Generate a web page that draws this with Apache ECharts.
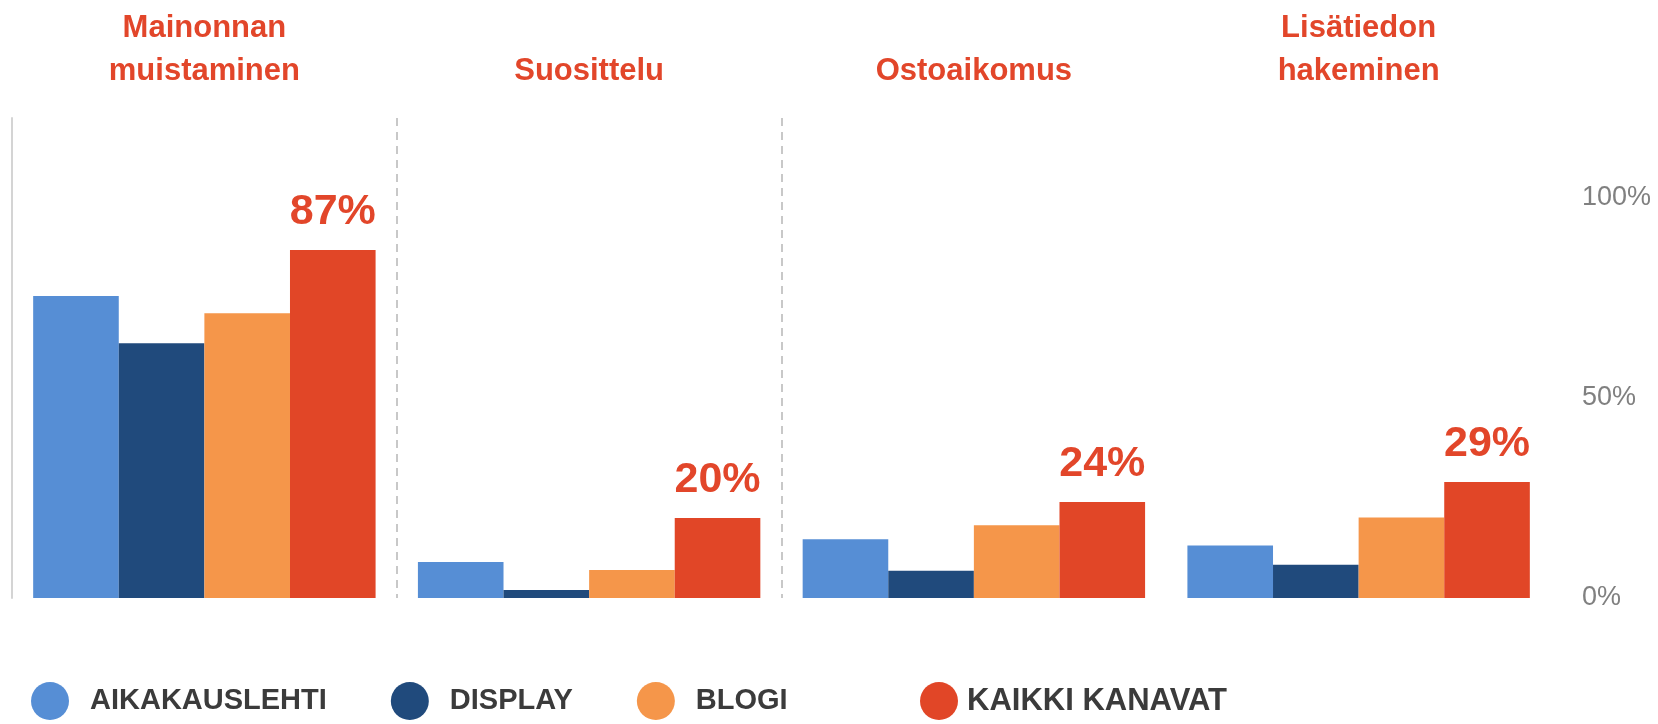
<!DOCTYPE html>
<html>
<head>
<meta charset="utf-8">
<script src="https://cdn.jsdelivr.net/npm/echarts@6/dist/echarts.min.js"></script>
<style>
  html, body { margin: 0; padding: 0; background: #fff; }
  #main { width: 1658px; height: 724px; }
</style>
</head>
<body>
<div id="main"></div>
<script>
// kategoriat (otsikot ylhäällä)
var categories = ['Mainonnan\nmuistaminen', 'Suosittelu', 'Ostoaikomus', 'Lisätiedon\nhakeminen'];
var seriesNames = ['AIKAKAUSLEHTI', 'DISPLAY', 'BLOGI', 'KAIKKI KANAVAT'];
// arvot prosentteina, luettu kuvasta
var aikakauslehti = [75.5, 9, 14.7, 13.1];
var display = [63.7, 2, 6.8, 8.3];
var blogi = [71.2, 7, 18.2, 20.1];
var kaikkiKanavat = [87, 20, 24, 29];
var colors = ['#568ed5', '#204a7c', '#f5964a', '#e14627'];

var red = '#e2462a';
var font = '"Liberation Sans", Arial, sans-serif';

var chart = echarts.init(document.getElementById('main'));

var values = [aikakauslehti, display, blogi, kaikkiKanavat];
var series = [];
for (var i = 0; i < seriesNames.length; i++) {
  var s = {
    name: seriesNames[i],
    type: 'bar',
    data: values[i],
    barGap: 0,
    barCategoryGap: '11%',
    itemStyle: { color: colors[i] },
    emphasis: { disabled: true }
  };
  if (i == 3) {
    s.label = {
      show: true,
      position: 'top',
      distance: 16,
      formatter: '{c}%',
      color: red,
      fontFamily: font,
      fontWeight: 'bold',
      fontSize: 43
    };
  }
  series.push(s);
}

var option = {
  backgroundColor: '#ffffff',
  animation: false,
  grid: { left: 12, right: 107, top: 118, bottom: 126 },
  legend: [{
    data: seriesNames.slice(0, 3),
    left: 26,
    top: 677,
    icon: 'circle',
    itemWidth: 38,
    itemHeight: 38,
    itemGap: 64,
    selectedMode: false,
    textStyle: {
      color: '#3b3b3b',
      fontFamily: font,
      fontWeight: 'bold',
      fontSize: 29,
      padding: [14, 0, 0, 16]
    }
  }, {
    data: seriesNames.slice(3),
    left: 915,
    top: 677,
    icon: 'circle',
    itemWidth: 38,
    itemHeight: 38,
    selectedMode: false,
    textStyle: {
      color: '#3b3b3b',
      fontFamily: font,
      fontWeight: 'bold',
      fontSize: 31,
      padding: [14, 0, 0, 4]
    }
  }],
  xAxis: {
    type: 'category',
    position: 'top',
    data: categories,
    axisLine: { show: false },
    axisTick: { show: false },
    axisLabel: {
      interval: 0,
      margin: 25,
      color: red,
      fontFamily: font,
      fontWeight: 'bold',
      fontSize: 31,
      lineHeight: 43
    },
    splitLine: {
      show: true,
      lineStyle: {
        type: [8, 6],
        width: 2,
        color: ['rgba(0,0,0,0)', '#c8c8c8', '#c8c8c8', 'rgba(0,0,0,0)', 'rgba(0,0,0,0)']
      }
    }
  },
  yAxis: [{
    type: 'value',
    position: 'right',
    min: 0,
    max: 120,
    interval: 50,
    axisLine: { show: false },
    axisTick: { show: false },
    splitLine: { show: false },
    axisLabel: {
      showMaxLabel: false,
      margin: 31,
      formatter: '{value}%',
      color: '#808080',
      fontFamily: font,
      fontSize: 27
    }
  }, {
    type: 'value',
    position: 'left',
    min: 0,
    max: 120,
    axisLine: { show: true, lineStyle: { color: '#d4d4d4', width: 2 } },
    axisTick: { show: false },
    axisLabel: { show: false },
    splitLine: { show: false }
  }],
  series: series
};

chart.setOption(option);
</script>
</body>
</html>
